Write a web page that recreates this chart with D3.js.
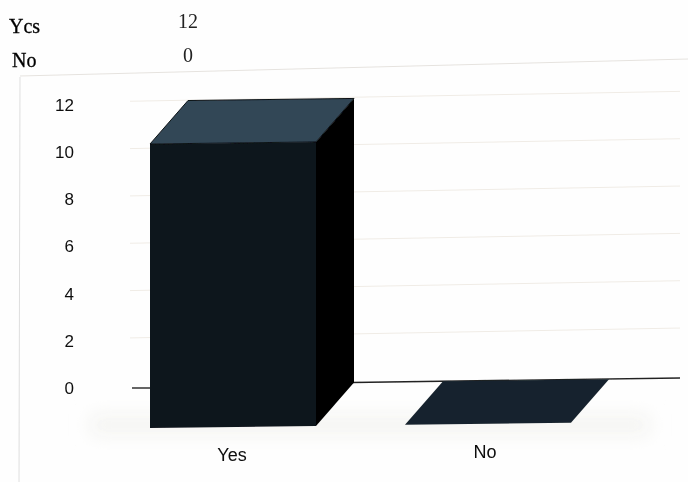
<!DOCTYPE html>
<html><head><meta charset="utf-8">
<script src="https://cdn.jsdelivr.net/npm/d3@7"></script>
<style>html,body{margin:0;padding:0;background:#fefefe}svg{display:block}</style>
</head><body><svg id="c" width="688" height="482"></svg>
<script>
const categories = ["Yes", "No"];
const values = [12, 0];
const tableLabels = ["Ycs", "No"];
const tableValues = ["12", "0"];
const yTicks = [0, 2, 4, 6, 8, 10, 12];

const svg = d3.select("#c");
const defs = svg.append("defs");
defs.append("filter").attr("id","soft").append("feGaussianBlur").attr("stdDeviation",0.5);
defs.append("filter").attr("id","shadow").attr("x","-10%").attr("y","-60%").attr("width","120%").attr("height","220%")
  .append("feGaussianBlur").attr("stdDeviation",9);

const barW = 166;
const x = d3.scaleBand().domain(categories).range([150, 150 + barW * 2 + 89]).paddingInner(89 / 255).paddingOuter(0).align(0);
const y = d3.scaleLinear().domain([0, 12]).range([428, 144]);   // front plane
const depthX = 38, depthY = -43;
const tilt = -0.0125;
const ty = (px, py) => py + (px - 150) * tilt;
const pt = (px, py) => [px, ty(px, py)];
const line = d3.line();
const closed = a => line(a) + "Z";

const g = svg.append("g").attr("filter","url(#soft)");

// page frame
g.append("path").attr("d", line([[20, 76], [688, 59]])).attr("stroke","#e6e3df").attr("stroke-width",1).attr("fill","none");
g.append("path").attr("d", line([[20, 77], [19, 482]])).attr("stroke","#dedede").attr("stroke-width",1).attr("fill","none");

// floor shadow
g.append("rect").attr("x",90).attr("y",414).attr("width",560).attr("height",22).attr("fill","#f5f5f3").attr("filter","url(#shadow)");

// back wall gridlines
const backLeft = 150 + depthX, backRight = 680;
yTicks.filter(t => t > 0).forEach(t => {
  const yy = y(t) + depthY;
  g.append("path").attr("d", line([pt(backLeft - 58, yy), pt(backRight, yy - 3)]))
    .attr("stroke","#f0ece6").attr("stroke-width",1).attr("fill","none");
});
// zero line
g.append("path").attr("d", line([pt(150 + barW + depthX - 2, y(0) + depthY), [680, 378]]))
  .attr("stroke","#222").attr("stroke-width",1.4).attr("fill","none");
g.append("path").attr("d", line([[132, 388], [152, 388]])).attr("stroke","#222").attr("stroke-width",1.4).attr("fill","none");

// bars
categories.forEach((c, i) => {
  const x0 = x(c), x1 = x0 + x.bandwidth();
  const yb = y(0), yt = y(values[i]);
  if (values[i] > 0) {
    g.append("path").attr("d", closed([pt(x1, yt), pt(x1 + depthX, yt + depthY), pt(x1 + depthX, yb + depthY), pt(x1, yb)])).attr("fill","#010203");
    g.append("path").attr("d", closed([pt(x0, yb), pt(x1, yb), pt(x1, yt), pt(x0, yt)])).attr("fill","#0f131b");
    g.append("path").attr("d", closed([pt(x0, yt), pt(x0 + depthX, yt + depthY), pt(x1 + depthX, yt + depthY), pt(x1, yt)])).attr("fill","#324656").attr("stroke","#0d1217").attr("stroke-width",1);
  } else {
    g.append("path").attr("d", closed([pt(x0, yt), pt(x0 + depthX, yt + depthY), pt(x1 + depthX, yt + depthY), pt(x1, yt)])).attr("fill","#18242d");
  }
});

// tick labels
g.append("g").selectAll("text").data(yTicks).join("text")
  .attr("x",74).attr("y", d => 388 - d * 23.6 + 6)
  .attr("text-anchor","end").attr("font-family","Liberation Sans, Arial, sans-serif").attr("font-size",17).attr("fill","#111").text(d => d);

// category labels
const labelY = [461, 458];
g.append("g").selectAll("text").data(categories).join("text")
  .attr("x", (d, i) => x(d) + x.bandwidth() / 2 + (i === 0 ? -1 : -3))
  .attr("y", (d, i) => labelY[i])
  .attr("text-anchor","middle").attr("font-family","Liberation Sans, Arial, sans-serif").attr("font-size",18).attr("fill","#0a0a0a").text(d => d);

// header table
const rowY = [33, 67];
const rowValY = [28, 62];
const rowX = [9, 12];
g.append("g").selectAll("text").data(tableLabels).join("text")
  .attr("x",(d,i)=>rowX[i]).attr("y",(d,i)=>rowY[i]).attr("font-family","Liberation Serif, Times New Roman, serif").attr("font-size",20).attr("fill","#000").attr("stroke","#000").attr("stroke-width",0.3).text(d=>d);
g.append("g").selectAll("text").data(tableValues).join("text")
  .attr("x",188).attr("y",(d,i)=>rowValY[i]).attr("text-anchor","middle").attr("font-family","Liberation Serif, Times New Roman, serif").attr("font-size",20).attr("fill","#222").text(d=>d);
</script></body></html>
